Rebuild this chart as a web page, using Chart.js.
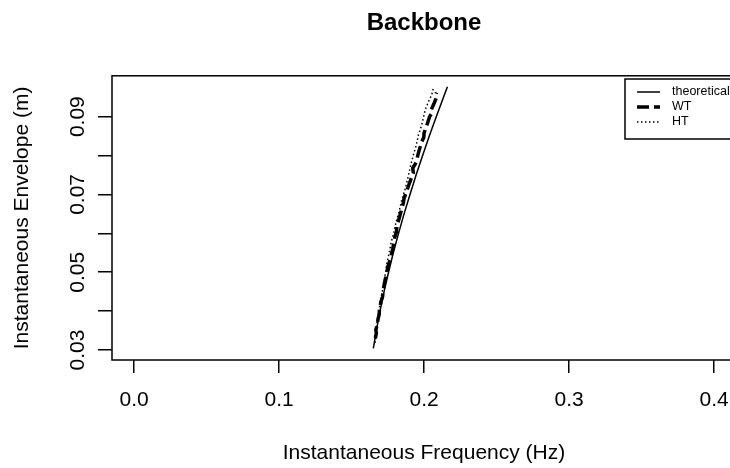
<!DOCTYPE html>
<html>
<head>
<meta charset="utf-8">
<script src="https://cdn.jsdelivr.net/npm/chart.js@4.4.1/dist/chart.umd.min.js"></script>
<style>
  html, body { margin: 0; padding: 0; overflow: hidden; background: #fff; }
  #backbone { display: block; width: 740px; height: 468px; }
</style>
</head>
<body>
<canvas id="backbone" width="740" height="468"></canvas>
<script>
const xTicks = [0, 0.1, 0.2, 0.3, 0.4];
const xTickLabels = ['0.0', '0.1', '0.2', '0.3', '0.4'];
const yTicks = [0.03, 0.04, 0.05, 0.06, 0.07, 0.08, 0.09];
const yTickLabels = ['0.03', '', '0.05', '', '0.07', '', '0.09'];

const seriesNames = ['theoretical', 'WT', 'HT'];

// theoretical backbone
const theoEnv = [0.0304, 0.035, 0.04, 0.045, 0.05, 0.055, 0.06, 0.065, 0.07, 0.075, 0.08, 0.085, 0.09, 0.095, 0.0977];
const theoFreq = [0.1650, 0.1671, 0.1696, 0.1724, 0.1755, 0.1788, 0.1824, 0.1862, 0.1903, 0.1945, 0.1990, 0.2036, 0.2084, 0.2134, 0.2161];

// wavelet transform estimate
const wtEnv = [0.0330, 0.0344, 0.0352, 0.0362, 0.0381, 0.0390, 0.0402, 0.0425, 0.0437, 0.0450, 0.0474, 0.0500, 0.0512,
  0.0531, 0.0560, 0.0590, 0.0604, 0.0617, 0.0645, 0.0678, 0.0690, 0.0705, 0.0730, 0.0755, 0.0768, 0.0782, 0.0808,
  0.0836, 0.0846, 0.0858, 0.0878, 0.0900, 0.0908, 0.0917, 0.0935, 0.0947, 0.0955, 0.0962];
const wtFreq = [0.1664, 0.1671, 0.1667, 0.1676, 0.1683, 0.1690, 0.1692, 0.1703, 0.1714, 0.1716, 0.1728, 0.1745, 0.1748,
  0.1765, 0.1784, 0.1798, 0.1810, 0.1812, 0.1833, 0.1857, 0.1862, 0.1877, 0.1900, 0.1926, 0.1922, 0.1945, 0.1962,
  0.1984, 0.1998, 0.2000, 0.2019, 0.2038, 0.2052, 0.2049, 0.2070, 0.2083, 0.2078, 0.2086];

// Hilbert transform estimate
const htEnv = [0.0318, 0.0345, 0.0369, 0.0400, 0.0425, 0.0446, 0.0470, 0.0500, 0.0523, 0.0550, 0.0575, 0.0600, 0.0628,
  0.0656, 0.0686, 0.0712, 0.0740, 0.0771, 0.0800, 0.0826, 0.0853, 0.0880, 0.0917, 0.0940, 0.0956, 0.0968, 0.0977];
const htFreq = [0.1662, 0.1670, 0.1674, 0.1690, 0.1697, 0.1710, 0.1720, 0.1735, 0.1743, 0.1760, 0.1772, 0.1790, 0.1806,
  0.1828, 0.1846, 0.1868, 0.1887, 0.1905, 0.1925, 0.1946, 0.1961, 0.1985, 0.2007, 0.2032, 0.2053, 0.2060, 0.2069];

const FONT = "'Liberation Sans', Arial, sans-serif";
const toPoints = (xs, ys) => xs.map((x, i) => ({ x: x, y: ys[i] }));

// R-style box, rotated y labels and boxed legend
const rFrame = {
  id: 'rFrame',
  afterDraw(chart) {
    const { ctx, chartArea: a, scales } = chart;
    ctx.save();
    ctx.strokeStyle = '#000';
    ctx.lineWidth = 1.5;
    ctx.strokeRect(a.left, a.top, a.right - a.left, a.bottom - a.top);

    ctx.fillStyle = '#000';
    ctx.font = '21px ' + FONT;
    ctx.textAlign = 'center';
    ctx.textBaseline = 'alphabetic';
    yTicks.forEach((v, i) => {
      if (!yTickLabels[i]) return;
      const py = scales.y.getPixelForValue(v);
      ctx.save();
      ctx.translate(84, py);
      ctx.rotate(-Math.PI / 2);
      ctx.fillText(yTickLabels[i], 0, 0);
      ctx.restore();
    });

    // legend
    const lx = 625, ly = 79, lw = 110, lh = 60;
    ctx.fillStyle = '#fff';
    ctx.fillRect(lx, ly, lw, lh);
    ctx.strokeRect(lx, ly, lw, lh);
    ctx.font = '12.5px ' + FONT;
    ctx.textAlign = 'left';
    ctx.textBaseline = 'middle';
    chart.data.datasets.forEach((ds, i) => {
      const ry = 92 + i * 15;
      ctx.save();
      ctx.strokeStyle = ds.borderColor;
      ctx.lineWidth = ds.borderWidth;
      ctx.setLineDash(ds.borderDash || []);
      ctx.beginPath();
      ctx.moveTo(637, ry);
      ctx.lineTo(660, ry);
      ctx.stroke();
      ctx.restore();
      ctx.fillStyle = '#000';
      ctx.fillText(ds.label, 672, ry);
    });
    ctx.restore();
  }
};

new Chart(document.getElementById('backbone'), {
  type: 'scatter',
  data: {
    datasets: [
      {
        label: seriesNames[0],
        data: toPoints(theoFreq, theoEnv),
        showLine: true,
        borderColor: '#000',
        borderWidth: 1.5,
        pointRadius: 0,
      },
      {
        label: seriesNames[1],
        data: toPoints(wtFreq, wtEnv),
        showLine: true,
        borderColor: '#000',
        borderWidth: 3.5,
        borderDash: [12, 5],
        pointRadius: 0,
      },
      {
        label: seriesNames[2],
        data: toPoints(htFreq, htEnv),
        showLine: true,
        borderColor: '#000',
        borderWidth: 1.5,
        borderDash: [1.5, 2.5],
        pointRadius: 0,
      },
    ],
  },
  options: {
    responsive: false,
    animation: false,
    devicePixelRatio: 1,
    layout: { padding: { left: 0, right: 4, top: 0, bottom: 0 } },
    scales: {
      x: {
        type: 'linear',
        min: -0.0152,
        max: 0.4151,
        afterBuildTicks: (s) => { s.ticks = xTicks.map((v) => ({ value: v })); },
        afterFit: (s) => { s.height = 108; s.paddingLeft = 0; s.paddingRight = 0; },
        ticks: {
          callback: (v, i) => xTickLabels[i],
          color: '#000',
          font: { family: FONT, size: 21 },
          padding: 15,
          maxRotation: 0,
          autoSkip: false,
        },
        grid: { drawOnChartArea: false, drawTicks: true, tickLength: 13, color: '#000', lineWidth: 1.5 },
        border: { display: false },
        title: {
          display: true,
          text: 'Instantaneous Frequency (Hz)',
          color: '#000',
          font: { family: FONT, size: 21 },
          padding: { top: 0, bottom: 2 },
        },
      },
      y: {
        type: 'linear',
        min: 0.02743,
        max: 0.1005,
        afterBuildTicks: (s) => { s.ticks = yTicks.map((v) => ({ value: v })); },
        afterFit: (s) => { s.width = 112; s.paddingTop = 0; s.paddingBottom = 0; },
        ticks: { display: false },
        grid: { drawOnChartArea: false, drawTicks: true, tickLength: 14, color: '#000', lineWidth: 1.5 },
        border: { display: false },
        title: {
          display: true,
          text: 'Instantaneous Envelope (m)',
          color: '#000',
          font: { family: FONT, size: 21 },
          padding: { top: 10, bottom: 0 },
        },
      },
    },
    plugins: {
      legend: { display: false },
      tooltip: { enabled: false },
      title: {
        display: true,
        fullSize: false,
        text: 'Backbone',
        color: '#000',
        font: { family: FONT, size: 24, weight: 'bold' },
        padding: { top: 9, bottom: 38 },
      },
    },
  },
  plugins: [rFrame],
});
</script>
</body>
</html>
